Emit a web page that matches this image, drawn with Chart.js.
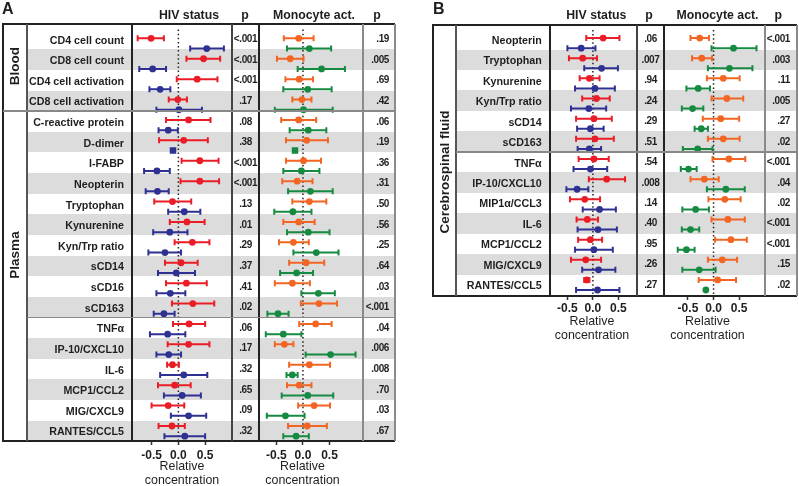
<!DOCTYPE html>
<html>
<head>
<meta charset="utf-8">
<script src="https://cdn.jsdelivr.net/npm/chart.js@4.4.0/dist/chart.umd.min.js"></script>
<style>
body { margin: 0; background: #fff; }
#fig { position: relative; width: 799px; height: 486px; overflow: hidden; background: #fff; }
#fig div, #fig canvas { position: absolute; }
.t { white-space: nowrap; line-height: 1; color: #1e1e1e; font-family: "Liberation Sans", Arial, sans-serif; }
.lbl { font-weight: bold; font-size: 10.7px; }
.pv { font-weight: bold; font-size: 10px; letter-spacing: -0.4px; }
.hdr { font-weight: bold; font-size: 12.3px; }
.sec { font-weight: bold; font-size: 13.5px; }
.let { font-weight: bold; font-size: 16px; }
</style>
</head>
<body>
<div id="fig"></div>
<script>
function $(id) {
  return document.getElementById(id);
}

// ---- data: [low, mean, high] relative concentration ----
const rowsA = ["CD4 cell count", "CD8 cell count", "CD4 cell activation", "CD8 cell activation",
  "C-reactive protein", "D-dimer", "I-FABP", "Neopterin", "Tryptophan", "Kynurenine",
  "Kyn/Trp ratio", "sCD14", "sCD16", "sCD163", "TNFα", "IP-10/CXCL10", "IL-6",
  "MCP1/CCL2", "MIG/CXCL9", "RANTES/CCL5"];
const pHivA = ["<.001", "<.001", "<.001", ".17", ".08", ".38", "<.001", "<.001", ".13", ".01",
  ".29", ".37", ".41", ".02", ".06", ".17", ".32", ".65", ".09", ".32"];
const pMonoA = [".19", ".005", ".69", ".42", ".06", ".19", ".36", ".31", ".50", ".56",
  ".25", ".64", ".03", "<.001", ".04", ".006", ".008", ".70", ".03", ".67"];

const aRed = [[-0.76, -0.51, -0.27], [0.15, 0.47, 0.78], [-0.03, 0.35, 0.73], [-0.18, -0.01, 0.16],
  [-0.23, 0.19, 0.60], [-0.36, 0.10, 0.55], [0.06, 0.40, 0.75], [0.04, 0.40, 0.76],
  [-0.45, -0.11, 0.24], [-0.16, 0.16, 0.49], [-0.07, 0.26, 0.58], [-0.25, 0.05, 0.36],
  [-0.23, 0.15, 0.53], [-0.12, 0.27, 0.67], [-0.10, 0.20, 0.50], [-0.20, 0.19, 0.58],
  [-0.21, -0.11, 0.01], [-0.38, -0.07, 0.23], [-0.50, -0.19, 0.11], [-0.37, -0.12, 0.12]];
const aBlue = [[0.22, 0.53, 0.85], [-0.73, -0.48, -0.23], [-0.54, -0.34, -0.15], [-0.41, 0.01, 0.44],
  [-0.37, -0.19, -0.01], [-0.10, -0.10, -0.10], [-0.64, -0.40, -0.16], [-0.61, -0.39, -0.18],
  [-0.19, 0.11, 0.41], [-0.47, -0.16, 0.17], [-0.56, -0.25, 0.05], [-0.38, -0.04, 0.31],
  [-0.41, -0.15, 0.13], [-0.46, -0.27, -0.07], [-0.53, -0.20, 0.13], [-0.41, -0.18, 0.05],
  [-0.34, 0.10, 0.54], [-0.27, 0.07, 0.42], [-0.14, 0.19, 0.52], [-0.26, 0.12, 0.50]];
const aOrange = [[-0.36, -0.08, 0.20], [-0.49, -0.24, 0.01], [-0.33, -0.07, 0.19], [-0.20, -0.02, 0.16],
  [-0.41, -0.08, 0.25], [-0.32, 0.07, 0.47], [-0.32, 0.01, 0.34], [-0.39, -0.11, 0.18],
  [-0.20, 0.12, 0.44], [-0.37, -0.08, 0.22], [-0.45, -0.18, 0.11], [-0.26, 0.06, 0.40],
  [-0.53, -0.20, 0.13], [-0.04, 0.30, 0.64], [-0.07, 0.24, 0.54], [-0.53, -0.35, -0.18],
  [-0.26, 0.12, 0.51], [-0.30, -0.07, 0.16], [-0.09, 0.21, 0.51], [-0.28, 0.08, 0.45]];
const aGreen = [[-0.30, 0.12, 0.53], [-0.10, 0.35, 0.79], [-0.37, 0.09, 0.54], [-0.53, 0.01, 0.56],
  [-0.25, 0.10, 0.44], [-0.15, -0.15, -0.15], [-0.37, -0.03, 0.31], [-0.28, 0.14, 0.56],
  [-0.54, -0.19, 0.16], [-0.30, 0.10, 0.50], [-0.18, 0.25, 0.67], [-0.43, -0.12, 0.19],
  [-0.03, 0.29, 0.60], [-0.67, -0.47, -0.27], [-0.70, -0.37, -0.03], [0.05, 0.52, 0.99],
  [-0.31, -0.20, -0.10], [-0.40, 0.09, 0.57], [-0.68, -0.33, 0.03], [-0.37, -0.13, 0.11]];

const rowsB = ["Neopterin", "Tryptophan", "Kynurenine", "Kyn/Trp ratio", "sCD14", "sCD163",
  "TNFα", "IP-10/CXCL10", "MIP1α/CCL3", "IL-6", "MCP1/CCL2", "MIG/CXCL9", "RANTES/CCL5"];
const pHivB = [".06", ".007", ".94", ".24", ".29", ".51", ".54", ".008", ".14", ".40", ".95", ".26", ".27"];
const pMonoB = ["<.001", ".003", ".11", ".005", ".27", ".02", "<.001", ".04", ".02", "<.001", "<.001", ".15", ".02"];

const bRed = [[-0.13, 0.20, 0.52], [-0.47, -0.20, 0.08], [-0.26, -0.07, 0.13], [-0.21, 0.07, 0.33],
  [-0.33, 0.02, 0.37], [-0.33, 0.04, 0.41], [-0.28, 0.02, 0.31], [-0.08, 0.27, 0.63],
  [-0.45, -0.16, 0.14], [-0.32, -0.11, 0.10], [-0.29, -0.05, 0.18], [-0.43, -0.14, 0.16],
  [-0.17, -0.12, -0.07]];
const bBlue = [[-0.50, -0.23, 0.05], [-0.17, 0.17, 0.49], [-0.35, 0.04, 0.43], [-0.43, -0.08, 0.26],
  [-0.31, -0.05, 0.21], [-0.30, -0.07, 0.16], [-0.38, -0.05, 0.28], [-0.52, -0.31, -0.09],
  [-0.20, 0.13, 0.45], [-0.30, 0.10, 0.47], [-0.35, 0.02, 0.39], [-0.21, 0.11, 0.44],
  [-0.33, 0.09, 0.52]];
const bOrange = [[-0.45, -0.27, -0.09], [-0.42, -0.23, -0.03], [-0.13, 0.19, 0.51], [-0.04, 0.26, 0.58],
  [-0.21, 0.14, 0.50], [-0.11, 0.19, 0.51], [-0.02, 0.30, 0.62], [-0.45, -0.18, 0.10],
  [-0.10, 0.22, 0.53], [-0.04, 0.28, 0.61], [0.03, 0.34, 0.65], [-0.11, 0.17, 0.46],
  [-0.29, 0.08, 0.44]];
const bGreen = [[-0.04, 0.39, 0.84], [-0.11, 0.31, 0.76], [-0.53, -0.30, -0.07], [-0.62, -0.41, -0.20],
  [-0.37, -0.24, -0.11], [-0.60, -0.31, -0.02], [-0.64, -0.49, -0.33], [-0.13, 0.24, 0.61],
  [-0.61, -0.35, -0.09], [-0.62, -0.45, -0.28], [-0.70, -0.53, -0.37], [-0.61, -0.28, 0.04],
  [-0.16, -0.15, -0.14]];

const xTicks = [-0.5, 0, 0.5];
const axisTitle = ["Relative", "concentration"];

const RED = "#ea1d27", BLUE = "#2e3191", ORANGE = "#f26522", GREEN = "#178a42";
const INK = "#1e1e1e";

// ---- layout (pixels) ----
// chart extents (cl/cr) may reach past the plot box so the axis title sits where the original has it
const layoutA = {
  letter: "A", letterX: 2, top: 24, bottom: 441, left: 3, right: 395, labelCol: 27,
  rowTop: 39, rowStep: 20.63, labelRight: 124, pHivX: 245.5, pMonoRight: 389, axisH: 46, tickPad: 3,
  hdr: { hiv: 189, p1: 245, mono: 314, p2: 377 },
  lines: [[27, 1.5, "#555"], [132, 2, "#222"], [232, 1.5, "#444"], [259, 2, "#222"], [363, 1.5, "#8a8a8a"]],
  splits: [[3, true], [13, false]],
  sections: [["Blood", 66], ["Plasma", 255]],
  hiv: { cl: 132, cr: 232, zero: 178, unit: 59 },
  mono: { cl: 242, cr: 363, zero: 303, unit: 57.5 }
};
const layoutB = {
  letter: "B", letterX: 433, top: 25, bottom: 296, left: 433, right: 797, labelCol: 456,
  rowTop: 39.3, rowStep: 20.46, labelRight: 541.7, pHivX: 650.5, pMonoRight: 790, axisH: 46, tickPad: 1,
  hdr: { hiv: 596.3, p1: 649, mono: 717.5, p2: 778.3 },
  lines: [[456, 1.5, "#555"], [550, 2, "#222"], [637, 1.5, "#444"], [664, 2, "#222"], [765, 1.5, "#8a8a8a"]],
  splits: [[5, false]],
  sections: [["Cerebrospinal fluid", 172]],
  hiv: { cl: 547, cr: 637, zero: 593, unit: 56 },
  mono: { cl: 650, cr: 765, zero: 714, unit: 55 }
};

const fig = $("fig");

function addRect(x, y, w, h, color) {
  const d = document.createElement("div");
  Object.assign(d.style, { left: x + "px", top: y + "px", width: w + "px", height: h + "px", background: color });
  fig.appendChild(d);
  return d;
}

function addText(text, x, y, cls, align, rotate) {
  const d = document.createElement("div");
  d.className = "t " + cls;
  d.textContent = text;
  const tx = align == "right" ? "-100%" : align == "left" ? "0" : "-50%";
  d.style.left = x + "px";
  d.style.top = y + "px";
  d.style.transform = "translate(" + tx + ", -50%)" + (rotate ? " rotate(-90deg)" : "");
  fig.appendChild(d);
}

// error bars + dotted zero line, drawn with the chart's own scales
const errorBars = {
  id: "errorBars",
  beforeDatasetsDraw(chart) {
    const { ctx, chartArea, scales: { x, y } } = chart;
    ctx.save();
    const zx = x.getPixelForValue(0);
    ctx.strokeStyle = "#222";
    ctx.lineWidth = 1.5;
    ctx.setLineDash([1.5, 2.6]);
    ctx.beginPath();
    ctx.moveTo(zx, chartArea.top + 1);
    ctx.lineTo(zx, chartArea.bottom);
    ctx.stroke();
    ctx.setLineDash([]);
    ctx.lineWidth = 2;
    chart.data.datasets.forEach(ds => {
      ctx.strokeStyle = ds.borderColor;
      ds.bars.forEach((b, i) => {
        if (b[0] == b[2]) return;
        const py = y.getPixelForValue(ds.data[i].y);
        const x0 = x.getPixelForValue(b[0]);
        const x1 = x.getPixelForValue(b[2]);
        ctx.beginPath();
        ctx.moveTo(x0, py); ctx.lineTo(x1, py);
        ctx.moveTo(x0, py - 3); ctx.lineTo(x0, py + 3);
        ctx.moveTo(x1, py - 3); ctx.lineTo(x1, py + 3);
        ctx.stroke();
      });
    });
    ctx.restore();
  }
};

function series(triples, color, offset) {
  return {
    data: triples.map((t, i) => ({ x: t[1], y: i + offset })),
    bars: triples,
    borderColor: color,
    backgroundColor: color,
    pointRadius: triples.map(t => t[0] == t[2] ? 4.6 : 3.4),
    pointStyle: triples.map(t => t[0] == t[2] ? "rect" : "circle"),
    pointBorderWidth: 0,
    showLine: false
  };
}

function makePlot(L, P, first, second) {
  const canvas = document.createElement("canvas");
  canvas.width = P.cr - P.cl;
  canvas.height = L.bottom - L.top + L.axisH;
  canvas.style.left = P.cl + "px";
  canvas.style.top = L.top + "px";
  fig.appendChild(canvas);
  new Chart(canvas.getContext("2d"), {
    type: "scatter",
    data: { datasets: [series(first, first.color, -0.25), series(second, second.color, 0.25)] },
    options: {
      responsive: false,
      animation: false,
      events: [],
      layout: { padding: 0 },
      plugins: { legend: { display: false }, tooltip: { enabled: false } },
      scales: {
        x: {
          type: "linear",
          min: (P.cl - P.zero) / P.unit,
          max: (P.cr - P.zero) / P.unit,
          afterBuildTicks: s => { s.ticks = xTicks.map(v => ({ value: v })); },
          afterFit: s => { s.height = L.axisH; },
          grid: { drawOnChartArea: false, drawTicks: true, tickLength: 4, tickColor: "#333", tickWidth: 1.5 },
          border: { display: false },
          ticks: {
            padding: L.tickPad, color: INK, autoSkip: false, maxRotation: 0,
            font: { family: "Liberation Sans", size: 12, weight: "bold" },
            callback: v => v.toFixed(1)
          },
          title: {
            display: true, text: axisTitle, color: INK, padding: { top: 0, bottom: 0 },
            font: { family: "Liberation Sans", size: 12.4, lineHeight: "13.5px" }
          }
        },
        y: {
          type: "linear", display: false, reverse: true,
          min: (L.top - L.rowTop) / L.rowStep,
          max: (L.bottom - L.rowTop) / L.rowStep
        }
      }
    },
    plugins: [errorBars]
  });
}

function buildPanel(L, rows, pHiv, pMono, red, blue, orange, green) {
  // grey bands
  rows.forEach((r, i) => {
    if (i % 2 == 1)
      addRect(L.labelCol, L.rowTop + i * L.rowStep - L.rowStep / 2, L.right - L.labelCol, L.rowStep, "#dcdcdc");
  });

  red.color = RED; blue.color = BLUE; orange.color = ORANGE; green.color = GREEN;
  makePlot(L, L.hiv, red, blue);
  makePlot(L, L.mono, orange, green);

  // frame
  const H = L.bottom - L.top;
  addRect(L.left - 1, L.top - 1, L.right - L.left + 1, 2, "#222");
  addRect(L.left - 1, L.bottom - 1, L.right - L.left + 1, 2, "#222");
  addRect(L.left - 1, L.top - 1, 2, H + 2, "#222");
  addRect(L.right - 0.75, L.top, 1.5, H, "#8a8a8a");
  L.lines.forEach(v => addRect(v[0] - v[1] / 2, L.top, v[1], H, v[2]));
  L.splits.forEach(s => {
    const y = L.rowTop + (s[0] + 0.5) * L.rowStep;
    const x0 = s[1] ? L.left : L.labelCol;
    addRect(x0, y - 0.75, L.right - x0, 1.5, "#888");
  });

  // texts
  rows.forEach((r, i) => {
    const cy = L.rowTop + i * L.rowStep;
    addText(r, L.labelRight, cy + 0.5, "lbl", "right");
    addText(pHiv[i], L.pHivX, cy, "pv", "center");
    addText(pMono[i], L.pMonoRight, cy, "pv", "right");
  });
  const secX = (L.left + L.labelCol) / 2;
  L.sections.forEach(s => addText(s[0], secX, s[1], "sec", "center", true));

  addText(L.letter, L.letterX, 9, "let", "left");
  addText("HIV status", L.hdr.hiv, 15, "hdr", "center");
  addText("p", L.hdr.p1, 15, "hdr", "center");
  addText("Monocyte act.", L.hdr.mono, 15, "hdr", "center");
  addText("p", L.hdr.p2, 15, "hdr", "center");
}

window.onload = function() {
  buildPanel(layoutA, rowsA, pHivA, pMonoA, aRed, aBlue, aOrange, aGreen);
  buildPanel(layoutB, rowsB, pHivB, pMonoB, bRed, bBlue, bOrange, bGreen);
};
</script>
</body>
</html>
